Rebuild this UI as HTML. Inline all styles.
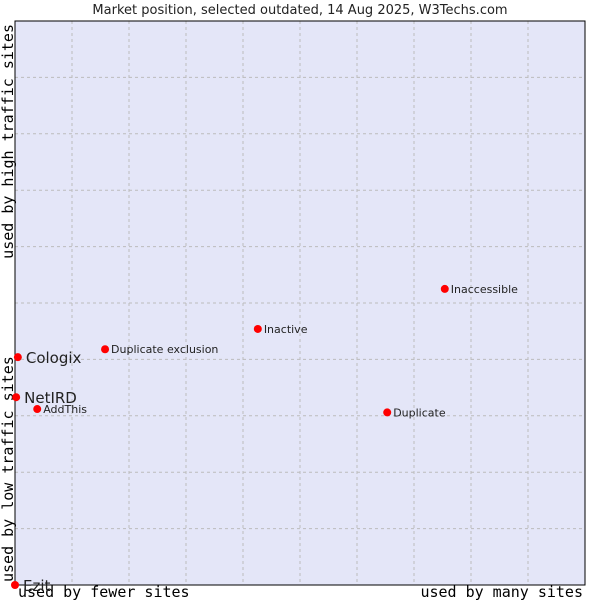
<!DOCTYPE html>
<html><head><meta charset="utf-8"><style>
body{margin:0;background:#fff;width:600px;height:600px;overflow:hidden}
svg text{font-family:"DejaVu Sans","Liberation Sans",sans-serif}
.mono{font-family:"DejaVu Sans Mono","Liberation Mono",monospace}
</style></head><body>
<svg id="chart" width="600" height="600" xmlns="http://www.w3.org/2000/svg">
<rect x="0" y="0" width="600" height="600" fill="#fff"/>
<text x="300" y="14" font-size="13" text-anchor="middle" fill="#222">Market position, selected outdated, 14 Aug 2025, W3Techs.com</text>
<rect x="15" y="21" width="570" height="564" fill="#e4e6f8"/>
<g id="grid"></g>
<rect x="15" y="21" width="570" height="564" fill="none" stroke="#000" stroke-width="1"/>
<text class="mono" x="18" y="597" font-size="15" fill="#000">used by fewer sites</text>
<text class="mono" x="583" y="597" font-size="15" text-anchor="end" fill="#000">used by many sites</text>
<text class="mono" transform="translate(13,582) rotate(-90)" font-size="15" fill="#000">used by low traffic sites</text>
<text class="mono" transform="translate(13,24) rotate(-90)" font-size="15" text-anchor="end" fill="#000">used by high traffic sites</text>
<g id="points"></g>
</svg>
<script>
const names=["Cologix","NetIRD","AddThis","Duplicate exclusion","Inactive","Inaccessible","Duplicate","Ezit"];
const xValues=[0.5,0.2,3.9,15.8,42.6,75.4,65.3,0];
const yValues=[40.4,33.3,31.2,41.8,45.4,52.5,30.6,0];
const bigLabel=[true,true,false,false,false,false,false,true];
const L=15,T=21,W=570,H=564;
const sx=v=>L+v/100*W, sy=v=>T+H-v/100*H;
const NS="http://www.w3.org/2000/svg";
const grid=document.getElementById('grid');
for(let i=1;i<10;i++){
  const gx=document.createElementNS(NS,'line');
  
  
  gx.setAttribute('x1',sx(i*10));gx.setAttribute('x2',sx(i*10));gx.setAttribute('y1',T);gx.setAttribute('y2',T+H);
  gx.setAttribute('stroke','#bcbcbc');gx.setAttribute('stroke-dasharray','3,3');
  grid.appendChild(gx);
  const gy=document.createElementNS(NS,'line');
  
  
  gy.setAttribute('y1',sy(i*10));gy.setAttribute('y2',sy(i*10));gy.setAttribute('x1',L);gy.setAttribute('x2',L+W);
  gy.setAttribute('stroke','#bcbcbc');gy.setAttribute('stroke-dasharray','3,3');
  grid.appendChild(gy);
}
const pts=document.getElementById('points');
names.forEach((n,i)=>{
  const x=sx(xValues[i]),y=sy(yValues[i]);
  const c=document.createElementNS(NS,'circle');
  
  
  c.setAttribute('cx',x);c.setAttribute('cy',y);c.setAttribute('r',4);c.setAttribute('fill','#f00');
  pts.appendChild(c);
  const t=document.createElementNS(NS,'text');
  
  
  const big=bigLabel[i];
  t.setAttribute('x',x+(big?8:6));t.setAttribute('y',y+(big?6:4));
  t.setAttribute('font-size',big?15:11);t.setAttribute('fill','#222');
  t.textContent=n;
  pts.appendChild(t);
});
</script>
</body></html>
